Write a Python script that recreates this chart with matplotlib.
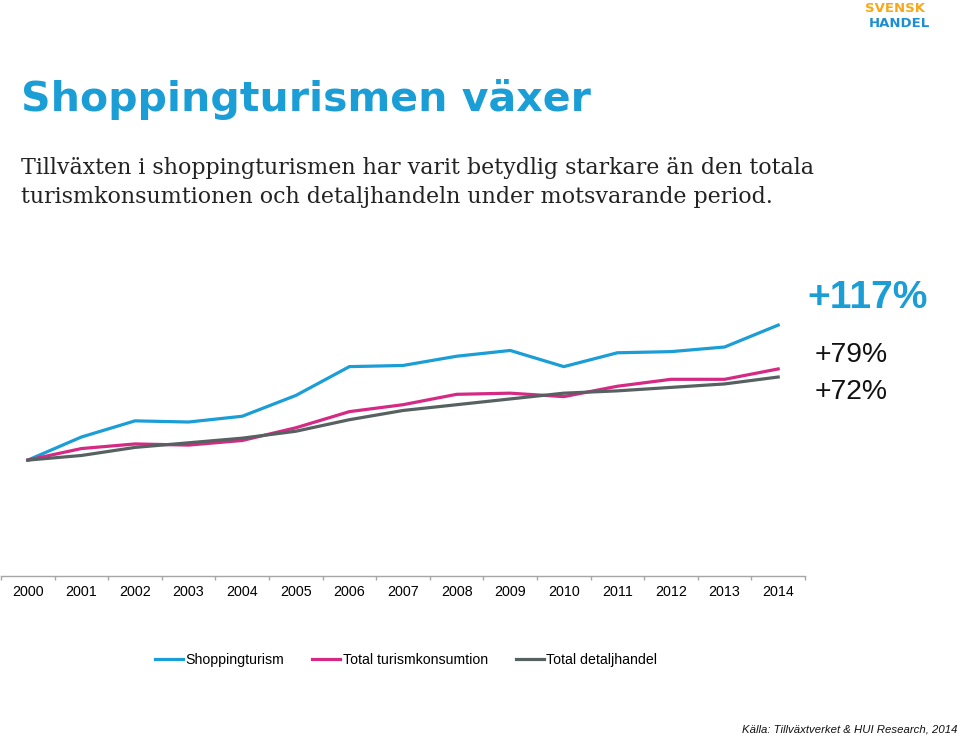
import matplotlib
matplotlib.use("Agg")
import matplotlib.pyplot as plt

years = ["2000", "2001", "2002", "2003", "2004", "2005", "2006", "2007",
         "2008", "2009", "2010", "2011", "2012", "2013", "2014"]
shopping = [100, 120, 134, 133, 138, 156, 181, 182, 190, 195, 181, 193, 194, 198, 217]
turism = [100, 110, 114, 113, 117, 128, 142, 148, 157, 158, 155, 164, 170, 170, 179]
detalj = [100, 104, 111, 115, 119, 125, 135, 143, 148, 153, 158, 160, 163, 166, 172]
series_names = ["Shoppingturism", "Total turismkonsumtion", "Total detaljhandel"]
end_labels = ["+117%", "+79%", "+72%"]

BLUE = "#1b9dd6"
PINK = "#d42a84"
GRAY = "#576161"

W, H = 960, 739
fig = plt.figure(figsize=(W / 100, H / 100), dpi=100)
fig.patch.set_facecolor("white")

def fx(px):
    return px / W

def fy(py):
    return 1 - py / H

# axes: x from 1 to 805 px, y value 0 at 575.5 px, value 250 at 287 px
ax = fig.add_axes([fx(1), fy(575.5), fx(805) - fx(1), fy(287) - fy(575.5)])
x = list(range(len(years)))
ax.plot(x, shopping, color=BLUE, lw=2.3, solid_joinstyle="miter", label=series_names[0])
ax.plot(x, turism, color=PINK, lw=2.3, solid_joinstyle="miter", label=series_names[1])
ax.plot(x, detalj, color=GRAY, lw=2.3, solid_joinstyle="miter", label=series_names[2])
ax.set_xlim(-0.5, len(years) - 0.5)
ax.set_ylim(0, 250)
for s in ["top", "right", "left"]:
    ax.spines[s].set_visible(False)
ax.spines["bottom"].set_color("#a6a6a6")
ax.spines["bottom"].set_linewidth(1.0)
ax.set_yticks([])
ax.set_xticks([i - 0.5 for i in range(len(years) + 1)], minor=False)
ax.set_xticklabels([])
ax.tick_params(axis="x", which="major", length=3, color="#a6a6a6", width=1.0)
ax.set_xticks(x, minor=True)
ax.set_xticklabels(years, minor=True, fontsize=10.3, family="Liberation Sans")
ax.tick_params(axis="x", which="minor", length=0, pad=7)
ax.set_facecolor("none")

# legend
leg = fig.legend(loc="center", bbox_to_anchor=(fx(406), fy(660)), ncol=3,
                 frameon=False, prop={"family": "Liberation Sans", "size": 10.2},
                 handlelength=2.0, handletextpad=0.15, columnspacing=2.0)

# title and subtitle
fig.text(fx(21), fy(100), "Shoppingturismen växer", color=BLUE, fontsize=29.5,
         fontweight="bold", family="DejaVu Sans", va="center", ha="left")
fig.text(fx(21), fy(168), "Tillväxten i shoppingturismen har varit betydlig starkare än den totala",
         color="#222222", fontsize=15.9, family="DejaVu Serif", va="center", ha="left")
fig.text(fx(21), fy(197), "turismkonsumtionen och detaljhandeln under motsvarande period.",
         color="#222222", fontsize=15.9, family="DejaVu Serif", va="center", ha="left")

# end labels
fig.text(fx(868), fy(298), end_labels[0], color=BLUE, fontsize=28, fontweight="bold",
         family="Liberation Sans", ha="center", va="center")
fig.text(fx(851.5), fy(355), end_labels[1], color="#111111", fontsize=20.3,
         family="Liberation Sans", ha="center", va="center")
fig.text(fx(851.5), fy(392), end_labels[2], color="#111111", fontsize=20.3,
         family="Liberation Sans", ha="center", va="center")

# logo
fig.text(fx(895), fy(9), "SVENSK", color="#f6a81c", fontsize=9.5, fontweight="heavy",
         family="DejaVu Sans", ha="center", va="center")
fig.text(fx(899), fy(23.5), "HANDEL", color="#1b8fd2", fontsize=9.5, fontweight="heavy",
         family="DejaVu Sans", ha="center", va="center")

# source
fig.text(fx(958), fy(730), "Källa: Tillväxtverket & HUI Research, 2014", color="#111111",
         fontsize=8.2, style="italic", family="Liberation Sans", ha="right", va="center")

fig.savefig("out.png", dpi=100, facecolor="white")
